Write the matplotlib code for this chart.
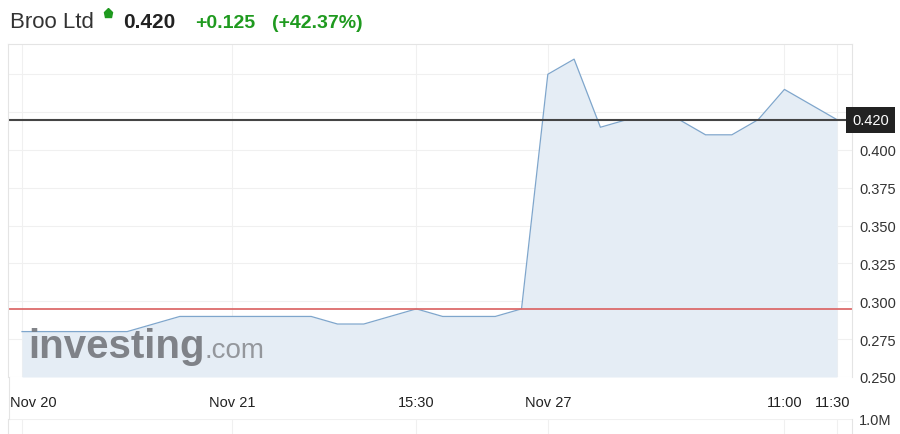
import matplotlib
matplotlib.use('Agg')
import matplotlib.pyplot as plt
import matplotlib.transforms as mtransforms
from matplotlib.lines import Line2D
import numpy as np

plt.rcParams['font.family'] = ['Liberation Sans', 'DejaVu Sans']

# Data
prices = [0.280, 0.280, 0.280, 0.280, 0.280, 0.285, 0.290, 0.290,
          0.290, 0.290, 0.290, 0.290, 0.285, 0.285, 0.290, 0.295,
          0.290, 0.290, 0.290, 0.295, 0.450, 0.460, 0.415, 0.420,
          0.420, 0.420, 0.410, 0.410, 0.420, 0.440, 0.430, 0.420]
tick_pos = [0, 8, 15, 20, 29, 31]
tick_labels = ['Nov 20', 'Nov 21', '15:30', 'Nov 27', '11:00', '11:30']
y_ticks = [0.250, 0.275, 0.300, 0.325, 0.350, 0.375, 0.400, 0.425, 0.450]
y_labels = ['0.250', '0.275', '0.300', '0.325', '0.350', '0.375', '0.400', '0.425', '']
last_price = 0.420
prev_close = 0.295
change = '+0.125'
change_pct = '(+42.37%)'
volume_ticks = [1.0e6]
volume_labels = ['1.0M']

W, H = 900, 435
fig = plt.figure(figsize=(W / 100, H / 100), dpi=100)

GRID = '#f0f0f0'
FRAME = '#e4e4e4'
GREEN = '#1f9a1f'

# price panel
ax = fig.add_axes([8 / W, 1 - 378 / H, 844 / W, 333 / H])
x = np.arange(len(prices))
ax.fill_between(x, prices, 0.25, color='#e5edf5', lw=0, zorder=1)
ax.plot(x, prices, color='#7fa6cc', lw=0.9, zorder=2)
ax.axhline(prev_close, color='#dc6b6b', lw=1.3, zorder=2.2)
ax.axhline(last_price, color='#444444', lw=1.5, zorder=2.3)

ax.set_xlim(-0.533, 31.57)
ax.set_ylim(0.25, 0.470)
ax.set_yticks(y_ticks)
ax.set_yticklabels(y_labels)
ax.yaxis.tick_right()
ax.tick_params(axis='y', length=0, pad=5, labelsize=10.5, labelcolor='#333333')
ax.set_xticks(tick_pos)
ax.set_xticklabels(tick_labels)
ax.tick_params(axis='x', length=0, pad=13, labelsize=10.5, labelcolor='#222222')
ax.grid(True, color=GRID, lw=0.8, zorder=0)
ax.set_axisbelow(True)
for side in ['left', 'top', 'right']:
    ax.spines[side].set_color(FRAME)
    ax.spines[side].set_linewidth(0.8)
ax.spines['bottom'].set_visible(False)

# nudge the edge labels so they stay inside the frame
lbls = ax.get_xticklabels()
lbls[0].set_horizontalalignment('left')
lbls[0].set_transform(lbls[0].get_transform() +
                      mtransforms.ScaledTranslation(-12 / 100, 0, fig.dpi_scale_trans))
lbls[-1].set_transform(lbls[-1].get_transform() +
                       mtransforms.ScaledTranslation(-4 / 100, 0, fig.dpi_scale_trans))

# last price box
ax.text(1.0, last_price, '%.3f' % last_price, transform=ax.get_yaxis_transform(),
        ha='left', va='center', color='white', fontsize=10.5, zorder=5,
        bbox=dict(boxstyle='square,pad=0.4', fc='#222222', ec='none'), clip_on=False)

# volume panel (empty)
vax = fig.add_axes([8 / W, 0, 844 / W, 15 / H])
vax.set_xlim(ax.get_xlim())
vax.set_ylim(0, 1.0e6)
vax.set_xticks(tick_pos)
vax.set_xticklabels([])
vax.set_yticks(volume_ticks)
vax.set_yticklabels(volume_labels)
vax.yaxis.tick_right()
vax.tick_params(axis='y', length=0, pad=5, labelsize=10.5, labelcolor='#333333')
vax.tick_params(axis='x', length=0)
vax.grid(True, color=GRID, lw=0.8)
for side in ['left', 'right']:
    vax.spines[side].set_color(FRAME)
    vax.spines[side].set_linewidth(0.8)
vax.spines['top'].set_visible(False)
vax.spines['bottom'].set_visible(False)
vax.patch.set_alpha(0)

# left frame line between the panels
fig.add_artist(Line2D([8.5 / W, 8.5 / W], [15 / H, 1 - 378 / H], color=FRAME, lw=0.8))

# watermark
wm = fig.text(28 / W, 1 - 358 / H, 'investing', fontsize=29, fontweight='bold',
              color='#74777c', alpha=0.9, zorder=3)
fig.canvas.draw()
bb = wm.get_window_extent()
fig.text(bb.x1 / W, 1 - 358 / H, '.com', fontsize=20, color='#8b8e93', alpha=0.9, zorder=3)

# header
base = 1 - 28 / H
fig.text(10 / W, base, 'Broo Ltd', fontsize=16, color='#333333')
fig.add_artist(Line2D([108 / W], [1 - 14 / H], marker='p', markersize=6.5,
                      color=GREEN, lw=0))
fig.text(123 / W, base, '%.3f' % last_price, fontsize=15, fontweight='bold', color='#222222')
fig.text(195 / W, base, change, fontsize=14, fontweight='bold', color=GREEN)
fig.text(272 / W, base, change_pct, fontsize=14, fontweight='bold', color=GREEN)

fig.savefig('out.png', dpi=100)
